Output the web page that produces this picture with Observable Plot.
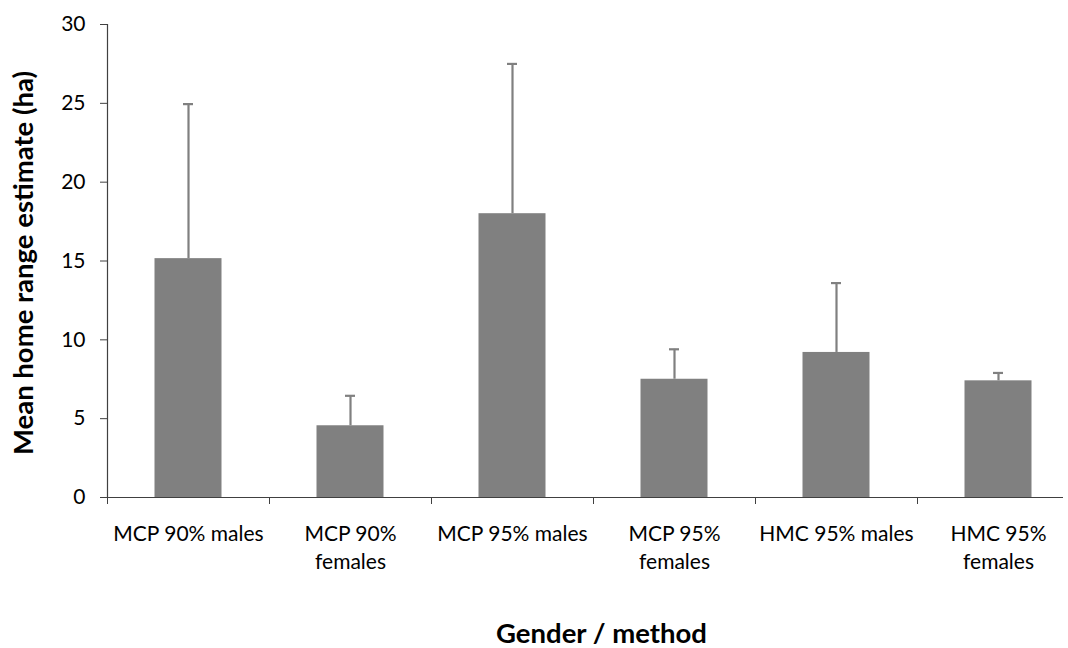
<!DOCTYPE html>
<html><head><meta charset="utf-8">
<script src="https://cdn.jsdelivr.net/npm/d3@7"></script>
<script src="https://cdn.jsdelivr.net/npm/@observablehq/plot@0.6"></script>
<style>html,body{margin:0;padding:0;background:#fff} svg{display:block}</style>
</head><body><div id="chart"></div>
<script>
const categories = ["MCP 90% males", "MCP 90%\nfemales", "MCP 95% males", "MCP 95%\nfemales", "HMC 95% males", "HMC 95%\nfemales"];
const means = [15.15, 4.55, 18.0, 7.5, 9.2, 7.4];
const upper = [24.95, 6.45, 27.5, 9.4, 13.6, 7.9];
const yTicks = [0, 5, 10, 15, 20, 25, 30];
const xTitle = "Gender / method";
const yTitle = "Mean home range estimate (ha)";

const data = categories.map((c, i) => ({category: c, mean: means[i], upper: upper[i]}));

const chart = Plot.plot({
  width: 1068, height: 648,
  marginTop: 24, marginBottom: 151, marginLeft: 107, marginRight: 5,
  style: {fontFamily: "Lato, sans-serif", fontSize: "21px", color: "#000", background: "#fff"},
  x: {domain: categories, range: [107, 1079], padding: 0},
  y: {domain: [0, 30]},
  marks: [
    Plot.barY(data, {x: "category", y: "mean", fill: "#808080", insetLeft: 47.5, insetRight: 47.5}),
    Plot.ruleX(data, {x: "category", y1: "mean", y2: "upper", stroke: "#808080", strokeWidth: 2.2}),
    Plot.tickY(data, {x: "category", y: "upper", stroke: "#808080", strokeWidth: 2.2, insetLeft: 76, insetRight: 76}),
    Plot.ruleY([0], {stroke: "#404040", strokeWidth: 1.2}),
    Plot.ruleX([categories[0]], {x: d => d, y1: 0, y2: 30, dx: -81, stroke: "#404040", strokeWidth: 1.2}),
    Plot.axisY({ticks: yTicks, tickSize: 7, tickPadding: 15, stroke: "#404040", strokeOpacity: 1, label: null, fontSize: 21}),
    Plot.axisX({tickSize: 7, tickFormat: () => "", dx: -81, stroke: "#404040", strokeOpacity: 1, label: null}),
    Plot.axisX({tickSize: 0, tickPadding: 23, lineHeight: 1.35, label: null, fontSize: 21}),
    Plot.text([xTitle], {frameAnchor: "bottom", dy: 137, dx: 16, fontWeight: "bold", fontSize: 27.5, lineAnchor: "middle", textAnchor: "middle"}),
    Plot.text([yTitle], {frameAnchor: "left", dx: -83, dy: 2, rotate: -90, fontWeight: "bold", fontSize: 27.5, lineAnchor: "middle", textAnchor: "middle"})
  ]
});
document.getElementById("chart").append(chart);
</script>
</body></html>
